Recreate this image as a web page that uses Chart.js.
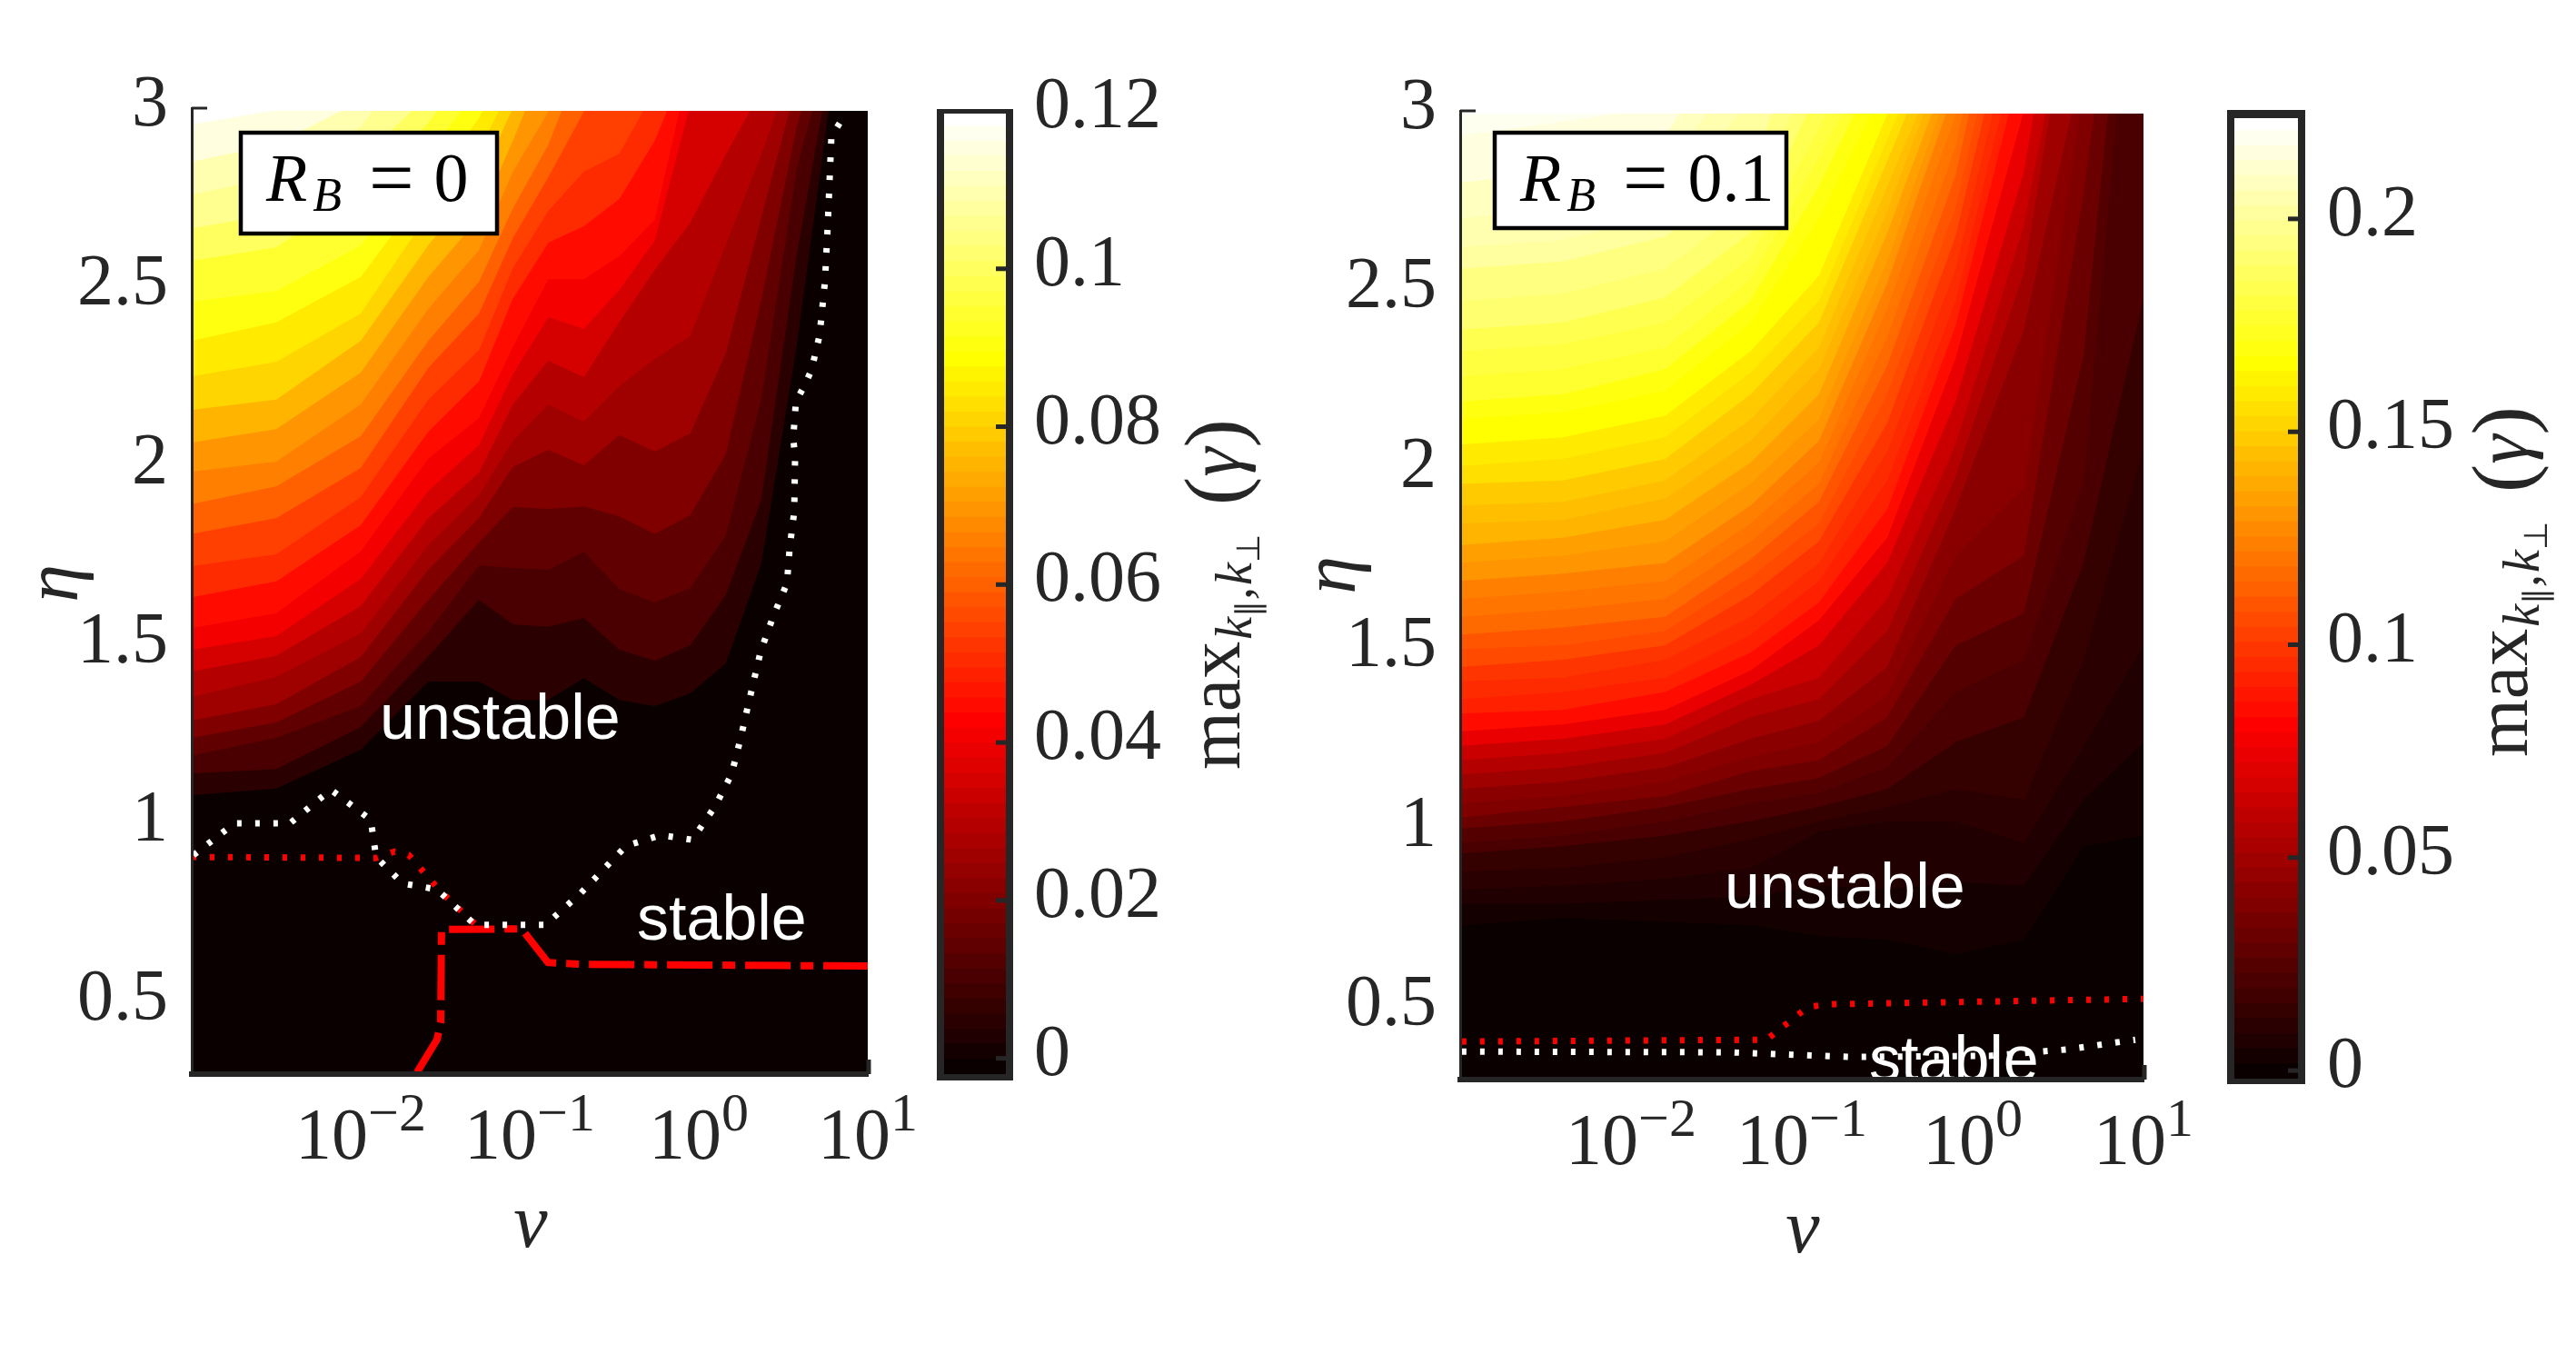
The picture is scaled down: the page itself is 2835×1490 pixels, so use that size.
<!DOCTYPE html>
<html>
<head>
<meta charset="utf-8">
<script src="https://cdn.jsdelivr.net/npm/chart.js@4/dist/chart.umd.min.js"></script>
<style>
html, body { margin: 0; padding: 0; background: #fff; }
#page { position: relative; width: 2835px; height: 1490px; overflow: hidden; }
canvas { position: absolute; top: 0; }
</style>
</head>
<body>
<div id="page"></div>
<script>
// log10(nu) columns of the left panel, eta of each contour is read at those columns
const leftLogNu = [-3, -2.5, -2, -1.6, -1.3, -1.1, -0.89, -0.68, -0.47, -0.26, -0.05, 0.16, 0.37, 0.58, 0.79, 1]
const leftLevels = [0.005, 0.01, 0.015, 0.02, 0.025, 0.03, 0.035, 0.04, 0.045, 0.05, 0.055, 0.06, 0.065, 0.07, 0.075, 0.08, 0.085, 0.09, 0.095, 0.1, 0.105, 0.11, 0.115, 0.12]
const leftEta = [
  [1.08, 1.098, 1.207, 1.397, 1.397, 1.346, 1.346, 1.407, 1.346, 1.329, 1.364, 1.448, 1.727, 2.337, 3.07, 3.5],
  [1.14, 1.153, 1.27, 1.468, 1.626, 1.557, 1.55, 1.575, 1.486, 1.456, 1.499, 1.639, 1.905, 2.591, 3.15, 3.5],
  [1.19, 1.24, 1.329, 1.537, 1.722, 1.715, 1.71, 1.76, 1.656, 1.618, 1.659, 1.804, 2.185, 2.832, 3.2, 3.5],
  [1.24, 1.283, 1.397, 1.626, 1.786, 1.885, 1.88, 1.887, 1.859, 1.81, 1.862, 2.032, 2.464, 2.947, 3.3],
  [1.288, 1.334, 1.466, 1.71, 1.855, 1.997, 2.045, 2.002, 2.086, 2.04, 2.091, 2.314, 2.693, 3.07, 3.3],
  [1.354, 1.41, 1.532, 1.778, 1.918, 2.07, 2.172, 2.124, 2.223, 2.299, 2.363, 2.617, 2.87, 3.15, 3.4],
  [1.425, 1.469, 1.608, 1.854, 1.981, 2.172, 2.294, 2.248, 2.401, 2.548, 2.68, 2.87, 3.05, 3.3],
  [1.486, 1.524, 1.684, 1.93, 2.058, 2.256, 2.416, 2.383, 2.492, 2.629, 3.01, 3.3],
  [1.547, 1.588, 1.761, 2.02, 2.134, 2.332, 2.522, 2.522, 2.586, 2.688, 3.125, 3.4],
  [1.633, 1.677, 1.834, 2.096, 2.236, 2.467, 2.624, 2.67, 2.746, 2.909, 3.15, 3.4],
  [1.72, 1.753, 1.913, 2.185, 2.324, 2.553, 2.713, 2.822, 2.873, 3.05, 3.3],
  [1.81, 1.854, 1.994, 2.274, 2.426, 2.637, 2.807, 2.99, 3.18, 3.4],
  [1.893, 1.943, 2.083, 2.35, 2.515, 2.72, 2.898, 3.15, 3.4],
  [1.984, 2.012, 2.172, 2.439, 2.604, 2.822, 2.99, 3.2, 3.4],
  [2.065, 2.103, 2.261, 2.528, 2.693, 2.909, 3.15, 3.4],
  [2.157, 2.185, 2.35, 2.617, 2.794, 3.0, 3.2, 3.4],
  [2.25, 2.291, 2.426, 2.705, 2.883, 3.07, 3.3],
  [2.35, 2.401, 2.528, 2.781, 2.972, 3.175, 3.4],
  [2.459, 2.489, 2.616, 2.87, 3.06, 3.4],
  [2.573, 2.611, 2.769, 2.959, 3.15, 3.4],
  [2.664, 2.705, 2.858, 3.036, 3.3],
  [2.759, 2.807, 2.947, 3.2, 3.4],
  [2.85, 2.9, 3.02, 3.3],
  [2.954, 2.995, 3.15, 3.4]
]

const leftWhiteLogNu = [-2.99, -2.747, -2.419, -2.177, -1.941, -1.909, -1.753, -1.548, -1.323, -0.909, -0.704, -0.43, -0.226, -0.038, 0.097, 0.194, 0.247, 0.296, 0.366, 0.441, 0.522, 0.538, 0.565, 0.57, 0.559, 0.575, 0.624, 0.667, 0.715, 0.747, 0.763, 0.785, 0.839]
const leftWhiteEta = [0.912, 1.001, 1.001, 1.095, 1.011, 0.907, 0.833, 0.816, 0.717, 0.717, 0.803, 0.938, 0.968, 0.955, 1.049, 1.138, 1.237, 1.339, 1.481, 1.58, 1.672, 1.771, 1.872, 2.025, 2.078, 2.18, 2.223, 2.268, 2.365, 2.517, 2.67, 2.921, 2.962]
const leftRedDotLogNu = [-3, -1.91, -1.8, -1.715, -1.527, -1.323]
const leftRedDotEta = [0.907, 0.904, 0.922, 0.912, 0.81, 0.719]
const leftRedDashLogNu = [-1.667, -1.548, -1.527, -1.522, -1.048, -0.892, -0.704, 1]
const leftRedDashEta = [0.305, 0.397, 0.445, 0.704, 0.706, 0.612, 0.607, 0.602]

// same thing for the right panel
const rightLogNu = [-3, -2.4, -1.8, -1.3, -0.9, -0.5, -0.1, 0.3, 0.65, 1]
const rightLevels = [0.002, 0.007, 0.011, 0.015, 0.02, 0.026, 0.032, 0.038, 0.044, 0.051, 0.058, 0.065, 0.075, 0.085, 0.09, 0.095, 0.1, 0.105, 0.11, 0.115, 0.12, 0.125, 0.13, 0.135, 0.14, 0.145, 0.15, 0.155, 0.16, 0.165, 0.17, 0.175, 0.18, 0.185, 0.19, 0.195, 0.2, 0.205, 0.21, 0.215, 0.22]
const rightEta = [
  [0.73, 0.75, 0.74, 0.73, 0.70, 0.69, 0.65, 0.69, 0.95, 0.98],
  [0.79, 0.79, 0.80, 0.81, 0.84, 0.83, 0.85, 0.84, 1.08, 1.24],
  [0.83, 0.84, 0.86, 0.89, 0.99, 1.02, 1.02, 0.96, 1.23, 1.51],
  [0.88, 0.89, 0.92, 0.97, 1.02, 1.06, 1.11, 1.08, 1.47, 2.06],
  [0.93, 0.95, 0.98, 1.02, 1.06, 1.11, 1.24, 1.31, 1.74, 2.48],
  [0.96, 0.98, 1.02, 1.07, 1.10, 1.17, 1.38, 1.47, 1.97, 3.82],
  [1.00, 1.02, 1.06, 1.11, 1.14, 1.23, 1.51, 1.60, 2.32, 3.99],
  [1.03, 1.06, 1.09, 1.16, 1.19, 1.31, 1.64, 1.76, 2.77, 4.04],
  [1.07, 1.09, 1.13, 1.20, 1.24, 1.37, 1.76, 1.95, 3.06],
  [1.11, 1.13, 1.17, 1.25, 1.30, 1.45, 1.89, 2.39, 3.15],
  [1.15, 1.17, 1.21, 1.31, 1.36, 1.55, 1.98, 2.55, 3.56],
  [1.19, 1.21, 1.25, 1.36, 1.42, 1.64, 2.07, 2.68, 3.56],
  [1.23, 1.25, 1.29, 1.40, 1.51, 1.74, 2.19, 2.83, 3.82],
  [1.27, 1.29, 1.33, 1.44, 1.58, 1.81, 2.31, 3.0, 3.82],
  [1.32, 1.33, 1.38, 1.49, 1.63, 1.89, 2.40, 3.16],
  [1.36, 1.38, 1.42, 1.54, 1.69, 1.97, 2.47, 3.26],
  [1.41, 1.42, 1.47, 1.59, 1.74, 2.05, 2.56, 3.36],
  [1.45, 1.47, 1.51, 1.65, 1.80, 2.13, 2.65, 3.46],
  [1.50, 1.51, 1.55, 1.70, 1.85, 2.21, 2.73, 3.56],
  [1.54, 1.56, 1.59, 1.75, 1.91, 2.29, 2.82, 3.69],
  [1.59, 1.61, 1.64, 1.80, 1.96, 2.37, 2.90, 3.82],
  [1.64, 1.66, 1.69, 1.85, 2.02, 2.45, 2.99, 3.94],
  [1.69, 1.71, 1.74, 1.90, 2.08, 2.52, 3.07],
  [1.74, 1.76, 1.80, 1.96, 2.14, 2.58, 3.12],
  [1.79, 1.81, 1.86, 2.02, 2.21, 2.66, 3.17],
  [1.85, 1.86, 1.92, 2.08, 2.28, 2.72, 3.23],
  [1.90, 1.91, 1.97, 2.14, 2.34, 2.79, 3.24],
  [1.96, 1.97, 2.03, 2.21, 2.41, 2.86, 3.32],
  [2.01, 2.03, 2.09, 2.27, 2.47, 2.92, 3.36],
  [2.07, 2.09, 2.15, 2.33, 2.54, 2.99, 3.56],
  [2.14, 2.16, 2.22, 2.41, 2.70, 3.08],
  [2.19, 2.21, 2.28, 2.47, 2.79, 3.18],
  [2.26, 2.28, 2.34, 2.53, 2.87, 3.23],
  [2.33, 2.35, 2.41, 2.59, 2.95, 3.31],
  [2.39, 2.41, 2.48, 2.66, 3.06],
  [2.47, 2.49, 2.56, 2.74, 3.16],
  [2.56, 2.58, 2.65, 2.82, 3.38],
  [2.62, 2.64, 2.71, 3.04],
  [2.70, 2.73, 2.82, 3.18],
  [2.80, 2.83, 2.93, 3.31],
  [2.93, 2.97, 3.01, 3.23]
]

const rightWhiteLogNu = [-2.99, -1.42, -0.72, 0.096, 0.553, 0.952]
const rightWhiteEta = [0.378, 0.376, 0.363, 0.366, 0.384, 0.411]
const rightRedDotLogNu = [-2.99, -1.207, -0.963, -0.83, 1]
const rightRedDotEta = [0.406, 0.411, 0.503, 0.51, 0.525]

const etaTicks = [0.5, 1, 1.5, 2, 2.5, 3]
const nuTicks = [0.01, 0.1, 1, 10]
const nuTickPowers = ['\u22122', '\u22121', '0', '1']
const leftBarTicks = [0, 0.02, 0.04, 0.06, 0.08, 0.1, 0.12]
const rightBarTicks = [0, 0.05, 0.1, 0.15, 0.2]

const SERIF = '"Liberation Serif", serif'
const INK = '#262626'

// matlab hot, 64 steps
function hot(t) {
  let i = Math.max(0, Math.min(63, Math.floor(t * 64)))
  let r = Math.min(1, (i + 1) / 24)
  let g = i < 24 ? 0 : Math.min(1, (i - 23) / 24)
  let b = i < 48 ? 0 : (i - 47) / 16
  return 'rgb(' + Math.round(r * 255) + ',' + Math.round(g * 255) + ',' + Math.round(b * 255) + ')'
}

function makeCanvas(left, width) {
  let c = document.createElement('canvas')
  c.width = width
  c.height = 1490
  c.style.left = left + 'px'
  c.style.width = width + 'px'
  c.style.height = '1490px'
  document.getElementById('page').appendChild(c)
  return c
}

function runs(ctx, x, y, list) {
  for (let r of list) {
    ctx.font = r.font
    ctx.fillText(r.text, x, y + (r.dy || 0))
    x += ctx.measureText(r.text).width + (r.gap || 0)
  }
}

function overlay(logNu, eta, color, dash, width) {
  return {
    data: logNu.map((v, i) => ({x: Math.pow(10, v), y: eta[i]})),
    showLine: true, fill: false, pointRadius: 0,
    borderColor: color, borderWidth: width, borderDash: dash, borderCapStyle: 'butt', borderJoinStyle: 'miter'
  }
}

function panel(p) {
  let range = p.barMax - p.barMin
  let sets = p.lines.slice()
  // first dataset is drawn last, so highest contour goes first
  for (let k = p.levels.length - 1; k >= 0; k--) {
    sets.push({
      data: p.eta[k].map((v, i) => ({x: Math.pow(10, p.logNu[i]), y: v})),
      showLine: true, pointRadius: 0, borderWidth: 0,
      backgroundColor: hot((p.levels[k] - p.barMin) / range),
      fill: 'end'
    })
  }
  sets.push({
    data: [{x: 0.001, y: 0.2}, {x: 10, y: 0.2}],
    showLine: true, pointRadius: 0, borderWidth: 0,
    backgroundColor: hot(0), fill: 'end'
  })

  let notes = {
    id: 'notes',
    afterDatasetsDraw(chart) {
      let ctx = chart.ctx, sx = chart.scales.x, sy = chart.scales.y, a = chart.chartArea
      ctx.save()
      ctx.translate(-p.left, 0)
      let ox = p.left
      // sliver above the data, the contours stop just under eta=3
      ctx.fillStyle = '#fff'
      ctx.fillRect(a.left + ox, a.top - 2, a.right - a.left + 6, p.gap + 2)
      ctx.strokeStyle = INK
      ctx.lineWidth = 3
      ctx.beginPath()
      ctx.moveTo(a.left + ox, sy.getPixelForValue(3))
      ctx.lineTo(a.left + ox + 17, sy.getPixelForValue(3))
      ctx.stroke()
      ctx.lineWidth = 5
      ctx.beginPath()
      ctx.moveTo(sx.getPixelForValue(10) + ox + 1, a.bottom)
      ctx.lineTo(sx.getPixelForValue(10) + ox + 1, a.bottom - 16)
      ctx.stroke()

      // region names, clipped by the plot box
      ctx.save()
      ctx.beginPath()
      ctx.rect(a.left + ox, a.top, a.right - a.left, a.bottom - a.top)
      ctx.clip()
      ctx.fillStyle = '#fff'
      ctx.font = '70px "Liberation Sans", sans-serif'
      ctx.fillText('unstable', p.unstable[0], p.unstable[1])
      ctx.fillText('stable', p.stable[0], p.stable[1])
      ctx.restore()

      // R_B box
      ctx.fillStyle = '#fff'
      ctx.fillRect(p.box[0], p.box[1], p.box[2], p.box[3])
      ctx.strokeStyle = '#000'
      ctx.lineWidth = 4.5
      ctx.strokeRect(p.box[0], p.box[1], p.box[2], p.box[3])
      ctx.fillStyle = '#000'
      runs(ctx, p.box[0] + 28, p.box[1] + 75, [
        {font: 'italic 74px ' + SERIF, text: 'R', gap: 6},
        {font: 'italic 52px ' + SERIF, text: 'B', dy: 11, gap: 30},
        {font: '88px ' + SERIF, text: '=', dy: 4, gap: 22},
        {font: '76px ' + SERIF, text: p.rb}
      ])

      // nu ticks with real exponents
      ctx.fillStyle = INK
      sx.ticks.forEach((t, i) => {
        let x = sx.getPixelForValue(t.value) + ox
        let w1 = 80
        ctx.font = '60px ' + SERIF
        let w2 = ctx.measureText(nuTickPowers[i]).width
        let x0 = x - (w1 + w2) / 2
        ctx.font = '80px ' + SERIF
        ctx.fillText('10', x0, a.bottom + 93)
        ctx.font = '60px ' + SERIF
        ctx.fillText(nuTickPowers[i], x0 + w1, a.bottom + 62)
      })

      ctx.font = 'italic 84px ' + SERIF
      ctx.textAlign = 'center'
      ctx.fillText('\u03bd', sx.getPixelForValue(0.1) + ox + 1, a.bottom + 190)
      ctx.translate(p.etaPos[0], p.etaPos[1])
      ctx.rotate(-Math.PI / 2)
      ctx.fillText('\u03b7', 0, 0)
      ctx.restore()
    }
  }

  new Chart(makeCanvas(p.left, p.width), {
    type: 'scatter',
    data: {datasets: sets},
    options: {
      responsive: false, animation: false, devicePixelRatio: 1,
      layout: {padding: {top: p.top, right: p.width - (p.plotRight - p.left)}},
      plugins: {legend: {display: false}, tooltip: {enabled: false}},
      scales: {
        x: {
          type: 'logarithmic', min: 0.001, max: 10,
          afterBuildTicks: s => { s.ticks = nuTicks.map(v => ({value: v})) },
          afterFit: s => { s.height = 1490 - p.bottom },
          grid: {display: false, drawTicks: false},
          border: {color: INK, width: 6, z: 1},
          ticks: {display: false}
        },
        y: {
          min: 0.3, max: 3,
          afterBuildTicks: s => { s.ticks = etaTicks.map(v => ({value: v})) },
          afterFit: s => { s.width = p.plotLeft - p.left },
          grid: {display: false, drawTicks: false},
          border: {color: INK, width: 3, z: 1},
          ticks: {
            padding: 26, labelOffset: -2, color: INK, font: {family: 'Liberation Serif', size: 80},
            callback: v => String(v)
          }
        }
      }
    },
    plugins: [notes]
  })
}

function colorbar(b) {
  let sets = []
  let range = b.max - b.min
  for (let i = 0; i < 64; i++) {
    sets.push({data: [[b.min, b.min + (i + 1) / 64 * range]], backgroundColor: hot((i + 0.5) / 64), borderWidth: 0, grouped: false, barPercentage: 1, categoryPercentage: 1})
  }
  let frame = {
    id: 'frame',
    afterDatasetsDraw(chart) {
      let ctx = chart.ctx, a = chart.chartArea, sy = chart.scales.y
      ctx.save()
      ctx.fillStyle = INK
      sy.ticks.forEach(t => {
        if (t.value === b.max) return
        ctx.fillRect(a.right - 11, sy.getPixelForValue(t.value) - 2.5, 11, 5)
      })
      ctx.fillRect(a.left - 8, a.top - b.capTop, 8, a.bottom - a.top + b.capTop + b.capBottom)
      ctx.fillRect(a.right, a.top - b.capTop, 8, a.bottom - a.top + b.capTop + b.capBottom)
      ctx.fillRect(a.left, a.top - b.capTop, a.right - a.left, b.capTop + 3)
      ctx.fillRect(a.left, a.bottom, a.right - a.left, b.capBottom)

      // max_{k||,kperp}(gamma), reads upward
      ctx.translate(b.labelX - b.left, b.labelY)
      ctx.rotate(-Math.PI / 2)
      runs(ctx, 0, 0, [
        {font: '82px ' + SERIF, text: 'max', gap: 2},
        {font: 'italic 56px ' + SERIF, text: 'k', dy: 13},
        {font: '36px ' + SERIF, text: '\u2225', dy: 22, gap: 1},
        {font: 'italic 56px ' + SERIF, text: ',', dy: 13, gap: 2},
        {font: 'italic 56px ' + SERIF, text: 'k', dy: 13},
        {font: '36px ' + SERIF, text: '\u22a5', dy: 22, gap: 32},
        {font: '94px ' + SERIF, text: '(', dy: 4},
        {font: 'italic 82px ' + SERIF, text: '\u03b3'},
        {font: '94px ' + SERIF, text: ')', dy: 4}
      ])
      ctx.restore()
    }
  }
  new Chart(makeCanvas(b.left, b.width), {
    type: 'bar',
    data: {labels: [''], datasets: sets},
    options: {
      responsive: false, animation: false, devicePixelRatio: 1,
      layout: {padding: {top: b.top, left: b.plotLeft - b.left, bottom: 1490 - b.bottom}},
      plugins: {legend: {display: false}, tooltip: {enabled: false}},
      scales: {
        x: {display: false},
        y: {
          position: 'right', min: b.min, max: b.max,
          afterBuildTicks: s => { s.ticks = b.ticks.map(v => ({value: v})) },
          afterFit: s => { s.width = b.width - (b.plotRight - b.left) },
          grid: {display: false, drawTicks: false},
          border: {display: false},
          ticks: {
            padding: b.labelGap, labelOffset: -3, color: INK, font: {family: 'Liberation Serif', size: 80},
            callback: v => String(v)
          }
        }
      }
    },
    plugins: [frame]
  })
}

panel({
  left: 0, width: 1025, plotLeft: 211, plotRight: 955, top: 119, bottom: 1182, gap: 3,
  logNu: leftLogNu, levels: leftLevels, eta: leftEta, barMin: -0.002, barMax: 0.12,
  lines: [
    overlay(leftWhiteLogNu, leftWhiteEta, '#fff', [5, 15], 7),
    overlay(leftRedDotLogNu, leftRedDotEta, '#ff0000', [5, 15], 7),
    overlay(leftRedDashLogNu, leftRedDashEta, '#ff0000', [50, 11, 14, 11], 8)
  ],
  box: [265, 146, 282, 111], rb: '0', unstable: [418, 813], stable: [701, 1034], etaPos: [85, 642]
})
colorbar({
  left: 1025, width: 425, plotLeft: 1039, plotRight: 1107, top: 122, bottom: 1182, min: -0.002, max: 0.12,
  ticks: leftBarTicks, labelGap: 31, capTop: 2, capBottom: 7, labelX: 1364, labelY: 847
})
panel({
  left: 1450, width: 980, plotLeft: 1607, plotRight: 2359, top: 122, bottom: 1188, gap: 3,
  logNu: rightLogNu, levels: rightLevels, eta: rightEta, barMin: -0.0019, barMax: 0.2243,
  lines: [
    overlay(rightWhiteLogNu, rightWhiteEta, '#fff', [5, 15], 7),
    overlay(rightRedDotLogNu, rightRedDotEta, '#ff0000', [5, 15], 7)
  ],
  box: [1645, 146, 321, 105], rb: '0.1', unstable: [1898, 999], stable: [2057, 1189], etaPos: [1491, 633]
})
colorbar({
  left: 2430, width: 405, plotLeft: 2459, plotRight: 2529, top: 127, bottom: 1187, min: -0.0019, max: 0.2243,
  ticks: rightBarTicks, labelGap: 32, capTop: 6, capBottom: 6, labelX: 2781, labelY: 833
})
</script>
</body>
</html>
